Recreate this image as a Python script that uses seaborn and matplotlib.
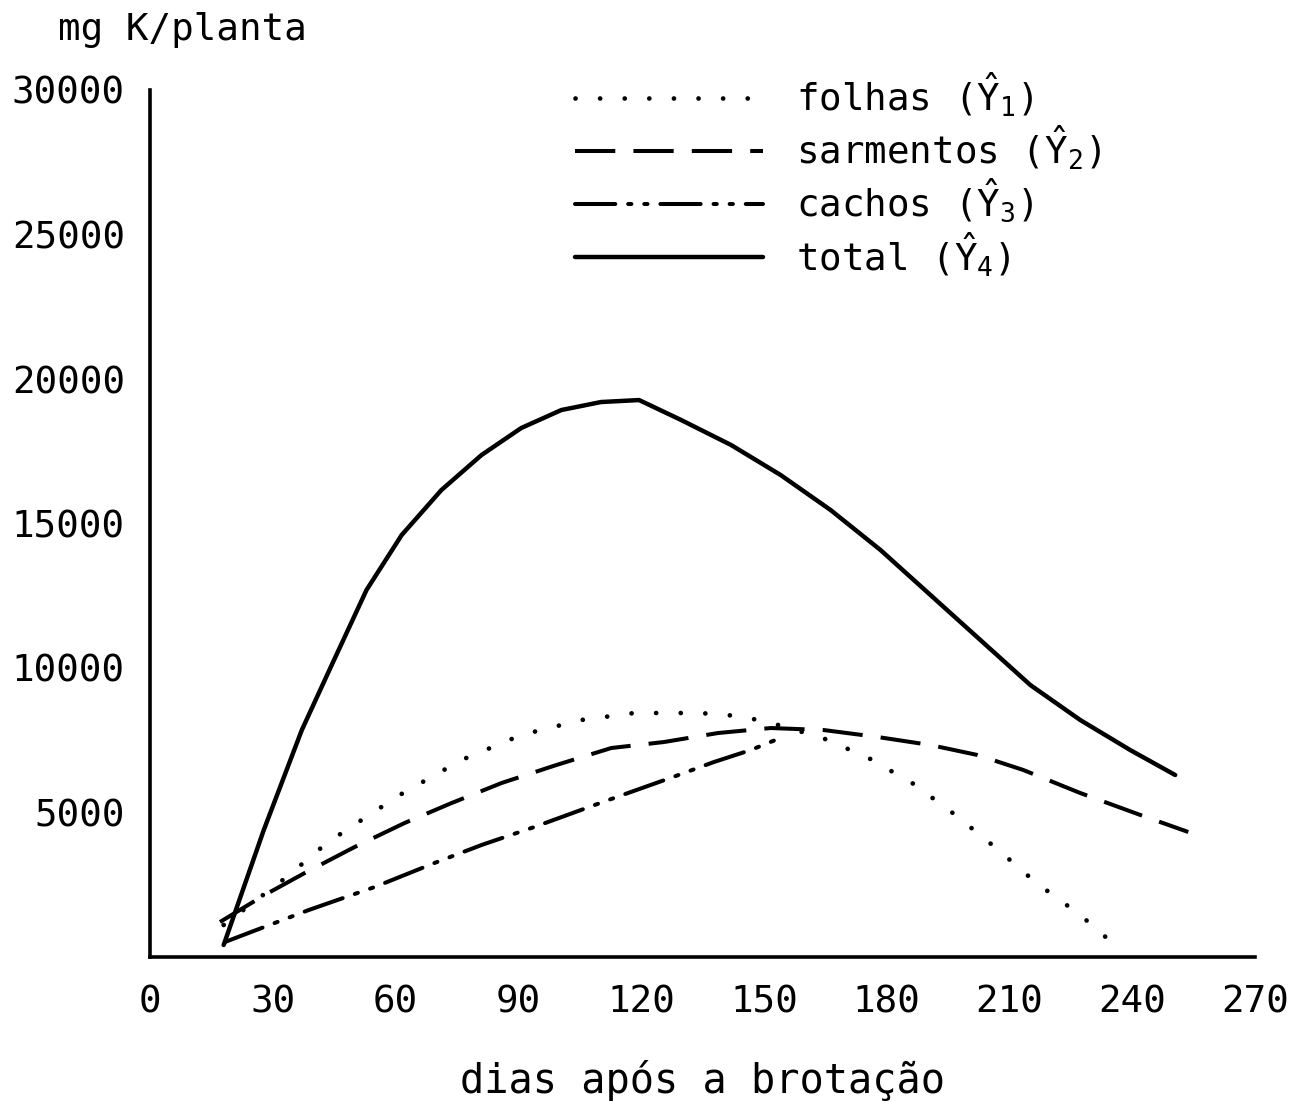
import matplotlib
matplotlib.use("Agg")
import matplotlib.pyplot as plt
import seaborn as sns
import numpy as np

# leitura aproximada das curvas (dias após a brotação, mg K/planta)
folhas_x = [18, 33.4, 43.2, 51.7, 61, 76.1, 90.7, 105.4, 118.3, 134.4, 143.7,
            151, 164.4, 175.6, 186.6, 196.8, 207.6, 216.3, 227.3, 236.6]
folhas_y = [1107, 2768, 3944, 4740, 5605, 6816, 7681, 8200, 8442, 8442, 8339,
            8131, 7577, 6885, 5986, 4913, 3668, 2595, 1453, 311]

sarm_x = [17.1, 28, 37.8, 50, 62.2, 73.7, 85.9, 99.3, 112.7, 125.6, 138.8,
          151.7, 164.6, 177.8, 190.7, 202.2, 213.4, 227.3, 242, 253.7]
sarm_y = [1211, 2145, 2906, 3806, 4636, 5328, 6020, 6643, 7231, 7439, 7750,
          7923, 7854, 7612, 7335, 6989, 6470, 5674, 4913, 4325]

cachos_x = [18.3, 38.8, 54.9, 69.5, 81, 93.9, 112, 127.8, 137.8, 146.8, 154.6]
cachos_y = [519, 1626, 2422, 3252, 3875, 4498, 5432, 6228, 6747, 7162, 7612]

total_x = [18, 27.8, 37.1, 44.4, 52.9, 61.5, 71.2, 81, 90.7, 100.5, 110.2,
           119.5, 129.8, 142, 154.1, 166.3, 178.5, 190.7, 202.9, 215.1,
           227.3, 239.5, 250.5]
total_y = [415, 4394, 7855, 10104, 12698, 14601, 16158, 17369, 18303, 18926,
           19203, 19272, 18580, 17715, 16677, 15466, 14082, 12525, 10968,
           9411, 8200, 7162, 6297]

x_ticks = [0, 30, 60, 90, 120, 150, 180, 210, 240, 270]
y_ticks = [5000, 10000, 15000, 20000, 25000, 30000]

labels = [r"folhas ($\hat{Y}_1$)", r"sarmentos ($\hat{Y}_2$)",
          r"cachos ($\hat{Y}_3$)", r"total ($\hat{Y}_4$)"]

sns.set_style("white")
plt.rcParams["font.family"] = ["DejaVu Sans Mono", "DejaVu Sans"]
plt.rcParams["text.color"] = "black"
plt.rcParams["axes.labelcolor"] = "black"
plt.rcParams["mathtext.fontset"] = "custom"
plt.rcParams["mathtext.rm"] = "DejaVu Sans Mono"
plt.rcParams["mathtext.it"] = "DejaVu Sans Mono"

fig = plt.figure(figsize=(12.89, 11.01), dpi=100)
ax = fig.add_axes([150 / 1289, (1101 - 957) / 1101,
                   (1255 - 150) / 1289, (957 - 90) / 1101])

sns.lineplot(x=folhas_x, y=folhas_y, ax=ax, sort=False, estimator=None,
             color="black", lw=3.4, linestyle=(0, (0.01, 5.2)),
             dash_capstyle="round", label=labels[0])
sns.lineplot(x=sarm_x, y=sarm_y, ax=ax, sort=False, estimator=None,
             color="black", lw=2.9, linestyle=(0, (10, 4.5)), label=labels[1])
sns.lineplot(x=cachos_x, y=cachos_y, ax=ax, sort=False, estimator=None,
             color="black", lw=2.9, linestyle=(0, (10, 3.2, 0.8, 3.2, 0.8, 3.2)),
             dash_capstyle="round", label=labels[2])
sns.lineplot(x=total_x, y=total_y, ax=ax, sort=False, estimator=None,
             color="black", lw=3.2, label=labels[3])

ax.set_xlim(0, 270)
ax.set_ylim(0, 30000)
ax.set_xticks(x_ticks)
ax.set_xticklabels([str(v) for v in x_ticks])
ax.set_yticks(y_ticks)
ax.set_yticklabels([str(v) for v in y_ticks])
ax.tick_params(direction="in", length=7, width=2.4, colors="black",
               labelsize=27, pad=18)
ax.tick_params(axis="x", pad=20)

for s in ["top", "right"]:
    ax.spines[s].set_visible(False)
for s in ["left", "bottom"]:
    ax.spines[s].set_color("black")
    ax.spines[s].set_linewidth(2.6)

ax.set_xlabel("dias após a brotação", fontsize=29, labelpad=28)
ax.set_ylabel("")
fig.text(58 / 1289, 1 - 30 / 1101, "mg K/planta", fontsize=27,
         ha="left", va="center")

ax.legend(loc="upper left", bbox_to_anchor=(575 / 1289, 1 - 70 / 1101),
          bbox_transform=fig.transFigure, frameon=False, fontsize=27,
          handlelength=5, handletextpad=0.9, labelspacing=0.12,
          borderpad=0, borderaxespad=0)

fig.savefig("out.png", dpi=100)
